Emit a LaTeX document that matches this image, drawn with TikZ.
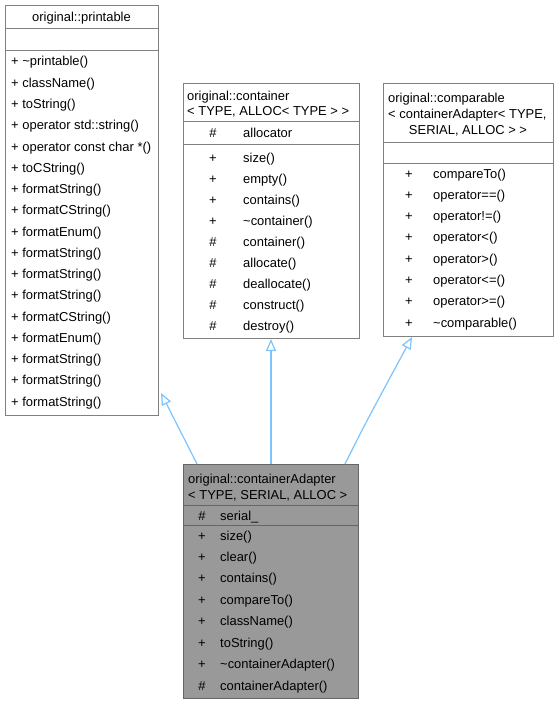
\documentclass[tikz,border=0pt]{standalone}
\usepackage{fontspec}
\setmainfont{Liberation Sans}
\usetikzlibrary{arrows.meta,calc}
\definecolor{boxborder}{HTML}{808080}
\definecolor{adapterfill}{HTML}{999999}
\definecolor{adapterborder}{HTML}{666666}
\definecolor{inhline}{HTML}{7DC3FF}
\tikzset{
  classbox/.style={draw=boxborder, line width=1bp, fill=white, inner sep=0pt, anchor=north west},
  sep/.style={draw=boxborder, line width=1bp},
  txt/.style={inner sep=0pt, anchor=base west, font=\fontsize{13}{15}\selectfont},
  ctxt/.style={inner sep=0pt, anchor=base, font=\fontsize{13}{15}\selectfont},
  inh/.style={draw=inhline, line width=1.2bp, -{Triangle[open, length=12bp, width=10bp, fill=white]}}
}
\begin{document}
\begin{tikzpicture}[x=1bp, y=-1bp]
\useasboundingbox (0,0) rectangle (559,704);

% printable
\node[classbox, minimum width=153bp, minimum height=410bp] (printable) at (5,5) {};
\draw[sep] (5,29) -- (158,29);
\draw[sep] (5,51) -- (158,51);
\node[ctxt] (ptitle) at (81.5,22) {original::printable};
\foreach \m [count=\i from 0] in {{+ \textasciitilde printable()},{+ className()},{+ toString()},{+ operator std::string()},{+ operator const char *()},{+ toCString()},{+ formatString()},{+ formatCString()},{+ formatEnum()},{+ formatString()},{+ formatString()},{+ formatString()},{+ formatCString()},{+ formatEnum()},{+ formatString()},{+ formatString()},{+ formatString()}}
  \node[txt] (pm\i) at (11,{66+21.25*\i}) {\m};

% container
\node[classbox, minimum width=176bp, minimum height=255bp] (container) at (183,83) {};
\draw[sep] (183,122) -- (359,122);
\draw[sep] (183,144) -- (359,144);
\node[txt] (ct1) at (187,101) {original::container};
\node[txt] (ct2) at (187,116) {< TYPE, ALLOC< TYPE > >};
\node[ctxt] (ca0) at (213,138) {\#};
\node[txt] (ca1) at (243,138) {allocator};
\foreach \s/\m [count=\i from 0] in {+/size(),+/empty(),+/contains(),+/\textasciitilde container(),\#/container(),\#/allocate(),\#/deallocate(),\#/construct(),\#/destroy()}{
  \node[ctxt] (cs\i) at (213,{162+21*\i}) {\s};
  \node[txt] (cm\i) at (243,{162+21*\i}) {\m};
}

% comparable
\node[classbox, minimum width=170bp, minimum height=253bp] (comparable) at (383,83) {};
\draw[sep] (383,142) -- (553,142);
\draw[sep] (383,163) -- (553,163);
\node[txt] (kt1) at (388,103) {original::comparable};
\node[txt] (kt2) at (388,119) {< containerAdapter< TYPE,};
\node[ctxt] (kt3) at (468,135) {SERIAL, ALLOC > >};
\foreach \m [count=\i from 0] in {compareTo(),operator==(),operator!=(),operator<(),operator>(),operator<=(),operator>=(),\textasciitilde comparable()}{
  \node[ctxt] (ks\i) at (409,{178+21.3*\i}) {+};
  \node[txt] (km\i) at (433,{178+21.3*\i}) {\m};
}

% containerAdapter
\node[classbox, draw=adapterborder, fill=adapterfill, minimum width=175bp, minimum height=234bp] (adapter) at (183,464) {};
\draw[sep, draw=adapterborder] (183,505) -- (358,505);
\draw[sep, draw=adapterborder] (183,525) -- (358,525);
\node[txt] (at1) at (188,483) {original::containerAdapter};
\node[txt] (at2) at (188,499) {< TYPE, SERIAL, ALLOC >};
\node[ctxt] (aa0) at (202,520) {\#};
\node[txt] (aa1) at (220,520) {serial\_};
\foreach \s/\m [count=\i from 0] in {+/size(),+/clear(),+/contains(),+/compareTo(),+/className(),+/toString(),+/\textasciitilde containerAdapter(),\#/containerAdapter()}{
  \node[ctxt] (as\i) at (202,{540+21.43*\i}) {\s};
  \node[txt] (am\i) at (220,{540+21.43*\i}) {\m};
}

% inheritance
\draw[inh] ($(adapter.north west)+(14,0)$) -- ($(printable.south east)+(2,-23)$);
\draw[inh] (adapter.north) -- (adapter.north |- container.south);
\draw[inh] ($(adapter.north east)+(-14,0)$) .. controls ($(adapter.north east)+(6,-40)$) .. ($(comparable.south west)+(29,0)$);
\end{tikzpicture}
\end{document}
